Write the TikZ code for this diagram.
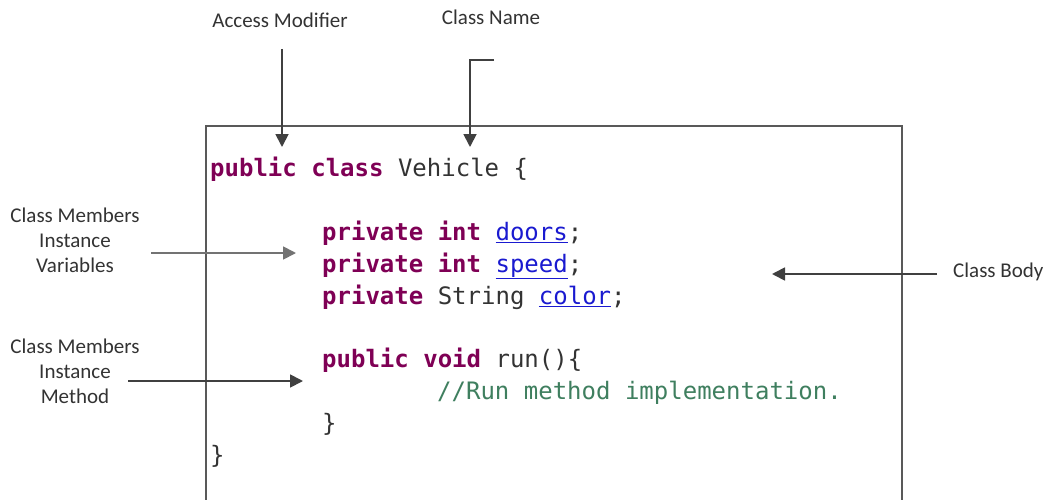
\documentclass[tikz,border=0pt]{standalone}
\usepackage{fontspec}
\setmainfont{Carlito}
\newfontfamily\codefont{DejaVu Sans Mono}
\usetikzlibrary{arrows.meta}
\definecolor{kw}{HTML}{7F0055}
\definecolor{idb}{HTML}{1A1AD0}
\definecolor{cmt}{HTML}{3F7F5F}
\definecolor{txt}{HTML}{333333}
\definecolor{arr}{HTML}{404040}
\newcommand{\kwd}[1]{\textcolor{kw}{\textbf{#1}}}
\newcommand{\idf}[1]{\textcolor{idb}{\underline{#1}}}
\begin{document}
\begin{tikzpicture}[x=1pt,y=-1pt,
  lbl/.style={font=\fontsize{21}{25}\selectfont, text=txt, inner sep=0pt, align=center},
  codeline/.style={font=\codefont\fontsize{24}{32}\selectfont, text=txt, inner sep=0pt, anchor=base west},
  pointer/.style={draw=arr, line width=1.8pt, -{Triangle[length=13pt,width=13pt]}},
  boxline/.style={draw=black!65, line width=1.6pt}]
\clip (0,0) rectangle (1043,500);
\fill[white] (0,0) rectangle (1043,500);
% box
\draw[boxline] (206,520) -- (206,126) -- (902,126) -- (902,520);
% top labels
\node[lbl, anchor=base] (am) at (280,28) {Access Modifier};
\node[lbl, anchor=base] (cn) at (491,25) {Class Name};
% code
\node[codeline] (l1) at (210,176) {\kwd{public} \kwd{class} Vehicle \{};
\node[codeline] (l2) at (322,240) {\kwd{private} \kwd{int} \idf{doors};};
\node[codeline] (l3) at (322,272) {\kwd{private} \kwd{int} \idf{speed};};
\node[codeline] (l4) at (322,304) {\kwd{private} String \idf{color};};
\node[codeline] (l5) at (322,367) {\kwd{public} \kwd{void} run()\{};
\node[codeline, text=cmt] (l6) at (437,399) {//Run method implementation.};
\node[codeline] (l7) at (322,431) {\}};
\node[codeline] (l8) at (210,463) {\}};
% left labels
\node[lbl, anchor=base] (cmv) at (75,272) {Class Members\\Instance\\Variables};
\node[lbl, anchor=base] (cmm) at (75,403) {Class Members\\Instance\\Method};
% right label
\node[lbl, anchor=base west] (cb) at (953,277) {Class Body};
% connector coordinates
\coordinate (a1s) at (282,49);
\coordinate (a1e) at (282,147);
\coordinate (a2s) at (494,60);
\coordinate (a2m) at (470,60);
\coordinate (a2e) at (470,147);
\coordinate (a3s) at (151,253);
\coordinate (a3e) at (296,253);
\coordinate (a4s) at (128,381);
\coordinate (a4e) at (303,381);
\coordinate (a5s) at (937,274);
\coordinate (a5e) at (772,274);
\draw[pointer] (a1s) -- (a1e);
\draw[pointer] (a2s) -- (a2m) -- (a2e);
\draw[pointer, draw=black!55] (a3s) -- (a3e);
\draw[pointer] (a4s) -- (a4e);
\draw[pointer] (a5s) -- (a5e);
\end{tikzpicture}
\end{document}
